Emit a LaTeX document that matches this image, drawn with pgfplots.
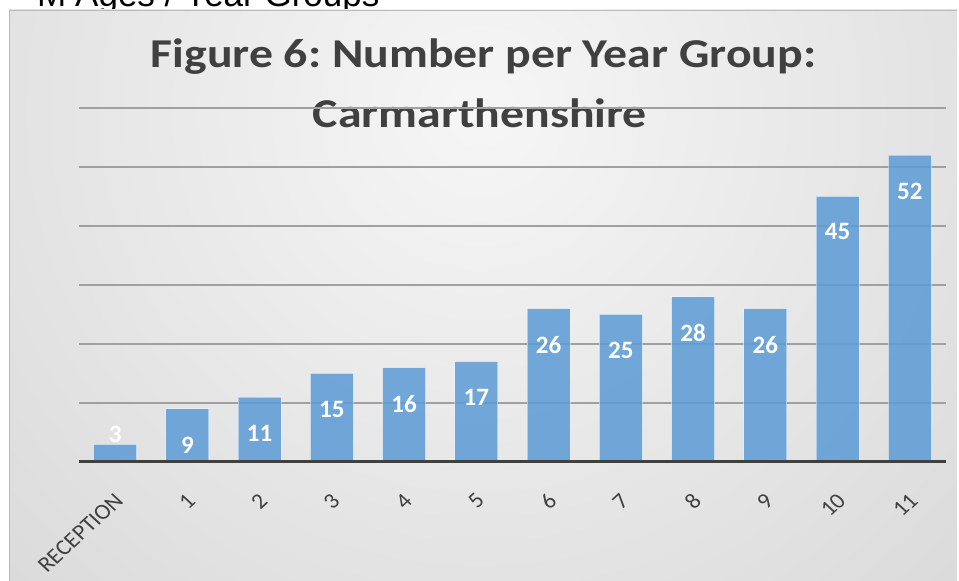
\documentclass[border=0pt]{standalone}
\usepackage{pgfplots}
\pgfplotsset{compat=1.18}
\usepackage{fontspec}
\setmainfont{Carlito}
\newfontfamily\arialfont{Liberation Sans}
\definecolor{barblue}{HTML}{5B9BD5}
\definecolor{txt}{HTML}{404040}
\definecolor{bgin}{HTML}{F6F6F6}
\definecolor{bgout}{HTML}{BDBDBD}
\definecolor{gridc}{HTML}{A0A0A0}
\frenchspacing
\begin{document}
\begin{tikzpicture}
\useasboundingbox (0pt,0pt) rectangle (959pt,581pt);
\fill[white] (0pt,0pt) rectangle (959pt,581pt);
\node[anchor=base west, inner sep=0, font=\arialfont\fontsize{35}{40}\selectfont] at (37pt,574pt) {M};
\node[anchor=base west, inner sep=0, font=\arialfont\fontsize{35}{40}\selectfont] at (75pt,574pt) {Ages / Year Groups};
\begin{scope}
\clip (9pt,0pt) rectangle (957pt,571pt);
\shade[inner color=bgin, outer color=bgout] (480pt,470pt) circle (1400pt);
\end{scope}
\draw[gray!55, line width=1pt] (9.5pt,0pt) -- (9.5pt,570.5pt) -- (957pt,570.5pt);
\node[anchor=base, inner sep=0, xscale=1.165, text=txt, font=\bfseries\fontsize{41}{50}\selectfont] at (483.5pt,513pt) {Figure 6: Number per Year Group:};
\node[anchor=base, inner sep=0, xscale=1.165, text=txt, font=\bfseries\fontsize{41}{50}\selectfont] at (480pt,453pt) {Carmarthenshire};
\begin{axis}[
  at={(79pt,119pt)}, anchor=south west, scale only axis,
  width=867pt, height=354pt,
  xmin=-0.5, xmax=11.5, ymin=0, ymax=60,
  xtick={0,1,2,3,4,5,6,7,8,9,10,11},
  xticklabels={RECEPTION,1,2,3,4,5,6,7,8,9,10,11},
  ytick={10,20,30,40,50,60}, yticklabels={},
  ymajorgrids, grid style={color=gridc, line width=1.2pt},
  axis line style={draw=none}, major tick length=0pt,
  x tick label style={inner sep=0pt, xshift=4pt, yshift=-35pt, xscale=1.08, rotate=45, anchor=east, text=txt, font=\fontsize{22}{26}\selectfont},
  clip=false,
]
\addplot[ybar, bar width=43pt, fill=barblue, fill opacity=0.85, draw=white, draw opacity=0.45, line width=1pt]
  coordinates {(0,3) (1,9) (2,11) (3,15) (4,16) (5,17) (6,26) (7,25) (8,28) (9,26) (10,45) (11,52)};
\addplot[draw=none, mark=none, nodes near coords, point meta=explicit symbolic,
  nodes near coords style={anchor=center, inner sep=0pt, text=white, font=\bfseries\fontsize{25}{29}\selectfont}]
  coordinates {(0,4.7) [3] (1,2.9) [9] (2,4.9) [11] (3,8.9) [15] (4,9.9) [16] (5,10.9) [17] (6,19.9) [26] (7,18.9) [25] (8,21.9) [28] (9,19.9) [26] (10,39.0) [45] (11,45.9) [52]};
\draw[txt, line width=3pt] (axis cs:-0.5,0) -- (axis cs:11.5,0);
\end{axis}
\end{tikzpicture}
\end{document}
